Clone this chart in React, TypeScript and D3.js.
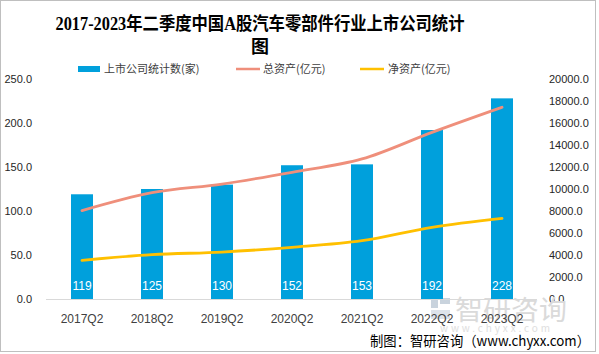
import * as d3 from "d3";

const categories = ["2017Q2", "2018Q2", "2019Q2", "2020Q2", "2021Q2", "2022Q2", "2023Q2"];
const companyCount = [119, 125, 130, 152, 153, 192, 228];
const totalAssets = [8030, 9660, 10450, 11520, 12730, 15150, 17430];
const netAssets = [3515, 4030, 4270, 4700, 5300, 6520, 7330];
const leftTicks = [0, 50, 100, 150, 200, 250];
const rightTicks = [0, 2000, 4000, 6000, 8000, 10000, 12000, 14000, 16000, 18000, 20000];

const W = 599;
const H = 354;
const BLUE = "#00A0DC";
const RED = "#EF8F7B";
const YELLOW = "#FFC000";
const SANS = "'Liberation Sans', 'Noto Sans CJK SC', sans-serif";
const CJK = "'Noto Sans CJK SC', 'Liberation Sans', sans-serif";

export default function App() {
  const x = d3.scalePoint<string>().domain(categories).range([47, 537]).padding(0.5);
  const yL = d3.scaleLinear().domain([0, 250]).range([299, 79]);
  const yR = d3.scaleLinear().domain([0, 20000]).range([299, 79]);
  const barW = 22;

  const line = d3
    .line<number>()
    .x((_, i) => x(categories[i])!)
    .y((d) => yR(d))
    .curve(d3.curveMonotoneX);

  return (
    <svg width={W} height={H} style={{ position: "absolute", left: 0, top: 0, background: "#fff" }}>
      <rect x={0.5} y={0.5} width={595} height={351} fill="#fff" stroke="#bfbfbf" />

      {/* title */}
      <g fontFamily="'Liberation Serif', 'Noto Sans CJK SC', serif" fontWeight="bold" fontSize={18} fill="#000" textAnchor="middle">
        <text x={260} y={30} textLength={409} lengthAdjust="spacingAndGlyphs">
          2017-2023年二季度中国A股汽车零部件行业上市公司统计
        </text>
        <text x={260} y={53}>图</text>
      </g>

      {/* legend */}
      <g fontFamily={CJK} fontSize={11} fill="#404040">
        <rect x={78} y={66} width={22} height={6} fill={BLUE} />
        <text x={104} y={73}>上市公司统计数(家)</text>
        <line x1={236} x2={260} y1={69} y2={69} stroke={RED} strokeWidth={2.5} />
        <text x={263} y={73}>总资产(亿元)</text>
        <line x1={360} x2={384} y1={69} y2={69} stroke={YELLOW} strokeWidth={2.5} />
        <text x={388} y={73}>净资产(亿元)</text>
      </g>

      {/* left axis */}
      <g fontFamily={SANS} fontSize={11} fill="#262626" textAnchor="end">
        {leftTicks.map((t) => (
          <text key={t} x={32} y={yL(t) + 4}>
            {t.toFixed(1)}
          </text>
        ))}
      </g>
      {/* right axis */}
      <g fontFamily={SANS} fontSize={11} fill="#262626" textAnchor="start">
        {rightTicks.map((t) => (
          <text key={t} x={549} y={yR(t) + 4}>
            {t.toFixed(1)}
          </text>
        ))}
      </g>

      {/* watermark */}
      <g fontFamily={CJK}>
        <rect x={431} y={298} width={7} height={10} fill="#c9d3dd" />
        <rect x={440} y={298} width={10} height={6} fill="#c9d3dd" />
        <rect x={431} y={310} width={19} height={9} fill="#dde3ea" />
        <text x={455} y={320} fontSize={27} fill="#dadada" textLength={112} lengthAdjust="spacingAndGlyphs">
          智研咨询
        </text>
        <text x={440} y={332} fontSize={10} fill="#dedede" textLength={110} lengthAdjust="spacing">
          www.chyxx.com
        </text>
      </g>

      {/* bars */}
      {companyCount.map((v, i) => (
        <rect key={i} x={x(categories[i])! - barW / 2} y={yL(v)} width={barW} height={yL(0) - yL(v)} fill={BLUE} />
      ))}

      <line x1={46} x2={537} y1={299.5} y2={299.5} stroke="#d9d9d9" />

      {/* lines */}
      <path d={line(totalAssets)!} fill="none" stroke={RED} strokeWidth={2.8} strokeLinecap="round" />
      <path d={line(netAssets)!} fill="none" stroke={YELLOW} strokeWidth={2.8} strokeLinecap="round" />

      {/* bar labels */}
      <g fontFamily={SANS} fontSize={12} fill="#fff" textAnchor="middle">
        {companyCount.map((v, i) => (
          <text key={i} x={x(categories[i])!} y={290}>
            {v}
          </text>
        ))}
      </g>

      {/* x labels */}
      <g fontFamily={SANS} fontSize={12} fill="#404040" textAnchor="middle">
        {categories.map((c) => (
          <text key={c} x={x(c)!} y={323}>
            {c}
          </text>
        ))}
      </g>

      {/* footer */}
      <text x={370} y={346} fontFamily={CJK} fontSize={14} fill="#000" textLength={220} lengthAdjust="spacingAndGlyphs">
        制图：智研咨询（www.chyxx.com）
      </text>
    </svg>
  );
}
